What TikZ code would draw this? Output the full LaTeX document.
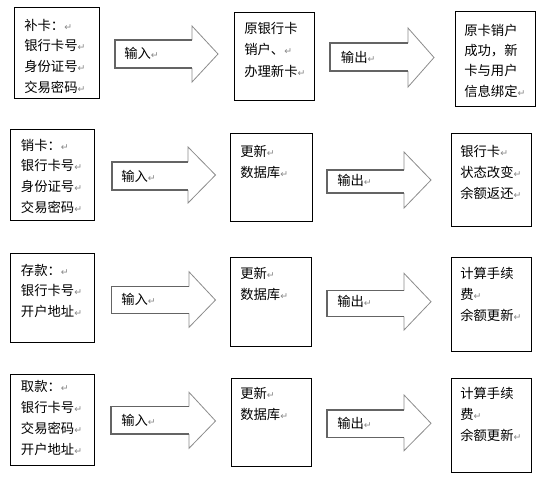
\documentclass[tikz,border=0pt]{standalone}
\usepackage{fontspec}
\setmainfont{Noto Sans CJK SC}
\newfontfamily\djv{DejaVu Sans}
\usetikzlibrary{fit}
\definecolor{pmgray}{RGB}{135,135,135}
\definecolor{arrowdark}{RGB}{100,100,100}
\definecolor{arrowlight}{RGB}{140,140,140}
\newcommand\retmk{{\color{pmgray}\djv\fontsize{7}{7}\selectfont ↵}}
\newcommand\blkarrow[9]{%
  \coordinate (#1-tail) at (#2,{(#3+#4)/2});
  \coordinate (#1-tip) at (#8,#9);
  \fill[white] (#2,#3) -- (#5,#3) -- (#5,#6) -- (#8,#9) -- (#5,#7) -- (#5,#4) -- (#2,#4) -- cycle;
  \draw[arrowlight, line width=0.6pt, line join=miter] (#5,#3) -- (#5,#6) -- (#8,#9) -- (#5,#7) -- (#5,#4);
  \draw[arrowdark, line width=1pt] (#5,#4) -- (#2,#4) -- (#2,#3) -- (#5,#3);
}
\tikzset{
  box/.style={draw=black, line width=0.75pt, inner sep=0pt, fill=white},
  txt/.style={anchor=north west, inner sep=0pt, align=left, font=\fontsize{10}{15.6}\selectfont},
  lbl/.style={anchor=west, inner sep=0pt, font=\fontsize{10}{12}\selectfont},
}
\begin{document}
\begin{tikzpicture}[x=0.75pt, y=-0.75pt]
\useasboundingbox (0,0) rectangle (541,480);

% ---- row 1 ----
\node[box, fit={(14,7)(99,98)}] (L1) {};
\node[box, fit={(234,12)(314,100)}] (M1) {};
\node[box, fit={(455,11)(535,106)}] (R1) {};
\node[txt] (L1t) at (24,18.7) {补卡：\retmk\\银行卡号\retmk\\身份证号\retmk\\交易密码\retmk};
\node[txt, font=\fontsize{10}{16}\selectfont] (M1t) at (244,22) {原银行卡\\销户、\retmk\\办理新卡\retmk};
\node[txt, font=\fontsize{10}{15.2}\selectfont] (R1t) at (464,23.7) {原卡销户\\成功，新\\卡与用户\\信息绑定\retmk};
\blkarrow{A11}{115}{40}{68}{192}{26}{82}{218}{54}
\blkarrow{A12}{330}{43}{71}{408}{28}{87}{434}{57.5}
\node[lbl] (A11l) at (124,53.3) {输入\retmk};
\node[lbl] (A12l) at (340.7,57.3) {输出\retmk};

% ---- row 2 ----
\node[box, fit={(10.3,129.3)(94.8,220)}] (L2) {};
\node[box, fit={(230,133.3)(312,221.7)}] (M2) {};
\node[box, fit={(451,133.3)(531,226.7)}] (R2) {};
\node[txt] (L2t) at (20.7,138.7) {销卡：\retmk\\银行卡号\retmk\\身份证号\retmk\\交易密码\retmk};
\node[txt] (M2t) at (240,145.4) {更新\retmk\\数据库\retmk};
\node[txt] (R2t) at (460,145.4) {银行卡\retmk\\状态改变\retmk\\余额返还\retmk};
\blkarrow{A21}{112}{162}{190}{188}{147}{203}{215.5}{175}
\blkarrow{A22}{327}{170}{193}{404}{152}{208}{431}{180}
\node[lbl] (A21l) at (121,176.7) {输入\retmk};
\node[lbl] (A22l) at (337,180.7) {输出\retmk};

% ---- row 3 ----
\node[box, fit={(10.3,253.3)(94.8,342.7)}] (L3) {};
\node[box, fit={(230,257.3)(311,346)}] (M3) {};
\node[box, fit={(451.7,257.3)(531,351.7)}] (R3) {};
\node[txt] (L3t) at (20.7,263.7) {存款：\retmk\\银行卡号\retmk\\开户地址\retmk};
\node[txt] (M3t) at (240,267) {更新\retmk\\数据库\retmk};
\node[txt] (R3t) at (460,267) {计算手续\\费\retmk\\余额更新\retmk};
\blkarrow{A31}{111.4}{286.7}{313.3}{189}{271.7}{327.3}{215.5}{300}
\blkarrow{A32}{327}{290.7}{316.7}{404}{273.3}{330}{431}{301.7}
\node[lbl] (A31l) at (121,299.3) {输入\retmk};
\node[lbl] (A32l) at (337,301.7) {输出\retmk};

% ---- row 4 ----
\node[box, fit={(10.3,374)(94.8,465)}] (L4) {};
\node[box, fit={(231,378.3)(311,466.7)}] (M4) {};
\node[box, fit={(451.7,378.3)(531,472.7)}] (R4) {};
\node[txt] (L4t) at (20.7,380.4) {取款：\retmk\\银行卡号\retmk\\交易密码\retmk\\开户地址\retmk};
\node[txt] (M4t) at (240,387) {更新\retmk\\数据库\retmk};
\node[txt] (R4t) at (460,387) {计算手续\\费\retmk\\余额更新\retmk};
\blkarrow{A41}{111}{406.7}{434}{189}{392.3}{448.3}{215.5}{421}
\blkarrow{A42}{327}{410}{437.7}{404}{395}{450.7}{431}{423.3}
\node[lbl] (A41l) at (121,420) {输入\retmk};
\node[lbl] (A42l) at (337,423.3) {输出\retmk};
\end{tikzpicture}
\end{document}
